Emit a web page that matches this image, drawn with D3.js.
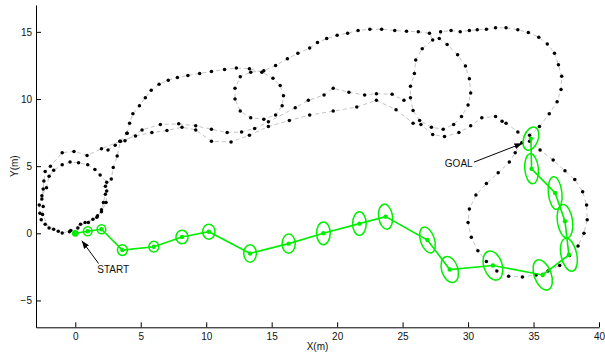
<!DOCTYPE html>
<html>
<head>
<meta charset="utf-8">
<script src="https://cdn.jsdelivr.net/npm/d3@7"></script>
<style>
  html, body { margin: 0; padding: 0; background: #fff; }
  svg { display: block; font-family: "Liberation Sans", Arial, Helvetica, sans-serif; }
</style>
</head>
<body>
<svg id="chart" width="605" height="354"></svg>
<script>
// Axis ticks (metres)
const xTicks = [0, 5, 10, 15, 20, 25, 30, 35, 40];
const yTicks = [-5, 0, 5, 10, 15];

// Driven trajectory (x, y in metres), one array per leg
// Leg 1: two laps round the start loop, then north
const trackLoop = [
  [-0.45, 0.12], [0.2, 0.4], [0.75, 0.8], [1.35, 1.05], [1.7, 1.3], [2.0, 1.6], [2.35, 2.3],
  [2.4, 3.15], [2.4, 3.8], [1.9, 4.35], [1.5, 4.75], [0.95, 5.1], [0.25, 5.25], [-0.4, 5.3],
  [-1.0, 5.1], [-1.65, 4.7], [-2.0, 4.25], [-2.2, 3.4], [-2.55, 2.8], [-2.75, 2.1], [-2.7, 1.5],
  [-2.6, 1.0], [-2.3, 0.67], [-1.65, 0.3], [-1.0, 0.02], [-0.35, 0.2], [0.4, 0.67], [1.0, 0.8],
  [1.65, 1.2], [2.0, 1.75], [2.15, 2.3], [2.3, 2.9], [2.3, 3.5], [2.75, 4.05], [2.9, 4.9],
  [3.2, 5.75], [3.45, 6.85], [3.95, 7.45]
];

// Leg 2: northern route, the two small loops, the south-east loop, and back west
const trackOuter = [
  [3.95, 7.45], [4.15, 8.2], [4.4, 8.9], [4.9, 9.5], [5.35, 10.1], [5.8, 10.65], [6.4, 11.1],
  [7.1, 11.4], [7.8, 11.6], [8.6, 11.75], [9.5, 11.9], [10.4, 12.05], [11.4, 12.2], [12.3, 12.3],
  [13.3, 12.25], [14.25, 12.0], [15.1, 11.55], [15.65, 11.0], [15.9, 10.25], [15.8, 9.5],
  [15.3, 8.8], [14.4, 8.5], [13.4, 8.6], [12.6, 9.1], [12.2, 10.0], [12.2, 10.8], [12.6, 11.65],
  [13.4, 12.0], [14.4, 12.1], [15.3, 12.5], [16.2, 13.0], [17.0, 13.4], [17.9, 13.8], [18.5, 14.2],
  [19.2, 14.5], [20.0, 14.75], [20.8, 14.9], [21.6, 15.1], [22.5, 15.2], [23.4, 15.2], [24.4, 15.1],
  [25.3, 15.05], [26.2, 15.0], [27.05, 14.9], [27.3, 14.4], [26.5, 13.75], [26.0, 12.9],
  [25.9, 11.9], [25.6, 10.95], [25.6, 10.1], [25.8, 9.15], [26.3, 8.4], [27.2, 7.9], [28.1, 7.75],
  [28.9, 8.1], [29.5, 8.7], [30.0, 9.55], [30.2, 10.45], [30.1, 11.5], [29.8, 12.45], [29.2, 13.3],
  [28.4, 14.05], [27.8, 14.5], [27.9, 15.0], [28.7, 15.1], [29.4, 15.0], [30.1, 15.1], [30.7, 15.15],
  [31.4, 15.2], [32.1, 15.3], [32.9, 15.3], [33.8, 15.15], [34.6, 14.95], [35.4, 14.6], [36.05, 14.1],
  [36.6, 13.4], [36.9, 12.55], [37.15, 11.7], [37.1, 10.7], [36.8, 9.8], [36.2, 8.9], [35.45, 7.95],
  [34.7, 7.3], [34.1, 6.75], [33.6, 6.0], [33.15, 5.3], [32.3, 4.5], [31.4, 3.7], [30.6, 2.85],
  [30.1, 1.8], [30.0, 0.8], [30.25, -0.3], [30.75, -1.3], [31.4, -2.1], [32.2, -2.8], [33.1, -3.2],
  [34.15, -3.25], [35.2, -3.1], [36.1, -2.8], [37.0, -2.4], [37.75, -1.65], [38.4, -0.95],
  [38.85, 0.0], [39.1, 1.0], [39.05, 2.1], [38.75, 3.1], [38.15, 4.0], [37.4, 4.65], [36.5, 5.45],
  [35.5, 6.2], [34.7, 6.85], [33.8, 7.55], [32.9, 8.2], [32.6, 8.35], [32.1, 8.7], [31.05, 8.6],
  [30.2, 8.0], [29.3, 7.5], [28.2, 7.2], [27.3, 7.35], [26.4, 8.1], [25.8, 8.2], [24.5, 9.2],
  [23.0, 9.9], [21.5, 9.4], [19.7, 9.1], [17.9, 8.8], [16.35, 8.4], [14.75, 7.95], [13.3, 7.3],
  [11.9, 6.8], [10.4, 6.85], [9.2, 7.7], [8.15, 7.9], [7.0, 7.65], [5.85, 7.5], [4.6, 7.25],
  [3.4, 6.85], [2.0, 6.3], [0.9, 5.8], [-0.1, 6.1], [-1.0, 6.0], [-1.9, 5.0], [-2.3, 4.6],
  [-2.4, 3.9], [-2.45, 3.3], [-2.55, 2.55], [-2.45, 2.0], [-2.5, 1.4], [-2.0, 0.4], [-1.3, 0.15]
];

// Leg 3: middle corridor heading east
const trackInner = [
  [2.5, 6.2], [3.05, 6.55], [3.8, 6.9], [5.1, 7.7], [6.5, 8.1], [7.9, 8.15], [9.2, 8.0],
  [10.4, 7.75], [11.6, 7.5], [12.7, 7.55], [13.7, 7.8], [14.75, 8.3], [16.8, 9.35], [17.8, 9.9],
  [19.0, 10.3], [19.7, 10.8], [20.9, 10.5], [22.1, 10.3], [23.0, 10.4], [24.2, 10.35], [25.1, 9.9]
];

// Estimated poses along the planned route, with 1-sigma covariance ellipses
const poseX     = [0, 0.95, 2.0, 3.6, 6.0, 8.15, 10.2, 13.35, 16.3, 18.95, 21.7, 23.7, 26.9, 28.6, 31.9, 35.7, 37.7, 37.4, 36.65, 34.85, 34.8];
const poseY     = [0, 0.15, 0.3, -1.25, -1.0, -0.27, 0.12, -1.5, -0.77, 0.0, 0.72, 1.24, -0.5, -2.7, -2.4, -3.1, -1.6, 0.9, 3.0, 4.8, 7.05];
const poseMinor = [0, 0.33, 0.33, 0.38, 0.38, 0.46, 0.47, 0.48, 0.5, 0.52, 0.52, 0.53, 0.53, 0.62, 0.7, 0.65, 0.6, 0.58, 0.52, 0.52, 0.55];
const poseMajor = [0, 0.33, 0.33, 0.4, 0.4, 0.5, 0.56, 0.65, 0.71, 0.85, 0.88, 0.94, 1.0, 1.0, 1.12, 1.18, 1.25, 1.25, 1.22, 1.12, 0.9];
const poseTilt  = [0, 0, 0, 0, 0, 0, 0, 0, 0, 0, 0, -8, -18, -18, -18, -20, -12, -8, -6, -5, 20];

// Callouts
const notes = [
  { label: "START", anchor: "start", text: [1.68, -2.95], tail: [1.78, -2.25], head: [0.5, -0.55] },
  { label: "GOAL",  anchor: "end",   text: [30.35, 4.95], tail: [30.45, 5.3],  head: [34.15, 6.7] }
];

const svg = d3.select("#chart");
const x = d3.scaleLinear().domain([-3, 40]).range([36, 599]);
const y = d3.scaleLinear().domain([-7, 17]).range([327.3, 5]);
const GREEN = "#00ee00";

// Axes: MATLAB-style, ticks pointing inward, no box
const fmt = d3.format("d");
const gx = svg.append("g").attr("transform", `translate(0,${y(-7)})`)
  .call(d3.axisBottom(x).tickValues(xTicks).tickFormat(fmt).tickSize(-5).tickSizeOuter(0).tickPadding(6));
const gy = svg.append("g").attr("transform", `translate(${x(-3)},0)`)
  .call(d3.axisLeft(y).tickValues(yTicks).tickFormat(fmt).tickSize(-5).tickSizeOuter(0).tickPadding(4));
[gx, gy].forEach(g => {
  g.select(".domain").attr("stroke", "#000").attr("stroke-width", 1);
  g.selectAll(".tick line").attr("stroke", "#000");
  g.selectAll(".tick text").attr("fill", "#111").style("font-size", "10px");
});

svg.append("text").attr("x", (x(-3) + x(40)) / 2).attr("y", 350)
  .attr("text-anchor", "middle").attr("fill", "#111").style("font-size", "10px").text("X(m)");
svg.append("text").attr("transform", `translate(18,${(y(-7) + y(17)) / 2}) rotate(-90)`)
  .attr("text-anchor", "middle").attr("fill", "#111").style("font-size", "10px").text("Y(m)");

// Trajectory: dashed grey path with black samples
const line = d3.line().x(d => x(d[0])).y(d => y(d[1]));
const tracks = [trackLoop, trackOuter, trackInner];
const tg = svg.append("g");
tg.selectAll("path").data(tracks).join("path")
  .attr("d", line).attr("fill", "none")
  .attr("stroke", "#b4b4b4").attr("stroke-width", 0.8).attr("stroke-dasharray", "4,3");
tg.selectAll("g.pts").data(tracks).join("g").attr("class", "pts")
  .selectAll("circle").data(d => d).join("circle")
  .attr("cx", d => x(d[0])).attr("cy", d => y(d[1])).attr("r", 1.75).attr("fill", "#000");

// Planned route with uncertainty ellipses
const poses = poseX.map((px, i) => ({ x: px, y: poseY[i], a: poseMinor[i], b: poseMajor[i], t: poseTilt[i] }));
const kx = x(1) - x(0), ky = y(0) - y(1);
const pg = svg.append("g");
pg.append("path").datum(poses)
  .attr("d", d3.line().x(d => x(d.x)).y(d => y(d.y)))
  .attr("fill", "none").attr("stroke", GREEN).attr("stroke-width", 1.6);
pg.selectAll("ellipse").data(poses.filter(d => d.a > 0)).join("ellipse")
  .attr("transform", d => `translate(${x(d.x)},${y(d.y)}) rotate(${d.t})`)
  .attr("rx", d => d.a * kx).attr("ry", d => d.b * ky)
  .attr("fill", "none").attr("stroke", GREEN).attr("stroke-width", 1.5);
pg.selectAll("circle").data(poses).join("circle")
  .attr("cx", d => x(d.x)).attr("cy", d => y(d.y))
  .attr("r", (d, i) => i === 0 ? 3.4 : 2.2).attr("fill", GREEN);

// Callout arrows
svg.append("defs").append("marker")
  .attr("id", "arrowhead").attr("viewBox", "0 0 10 10").attr("refX", 10).attr("refY", 5)
  .attr("markerWidth", 8).attr("markerHeight", 6).attr("markerUnits", "userSpaceOnUse")
  .attr("preserveAspectRatio", "none").attr("orient", "auto")
  .append("path").attr("d", "M0,0L10,5L0,10z").attr("fill", "#000");
const ng = svg.append("g");
ng.selectAll("line").data(notes).join("line")
  .attr("x1", d => x(d.tail[0])).attr("y1", d => y(d.tail[1]))
  .attr("x2", d => x(d.head[0])).attr("y2", d => y(d.head[1]))
  .attr("stroke", "#000").attr("stroke-width", 1).attr("marker-end", "url(#arrowhead)");
ng.selectAll("text").data(notes).join("text")
  .attr("x", d => x(d.text[0])).attr("y", d => y(d.text[1]))
  .attr("text-anchor", d => d.anchor).attr("fill", "#111").style("font-size", "10px")
  .text(d => d.label);
</script>
</body>
</html>
